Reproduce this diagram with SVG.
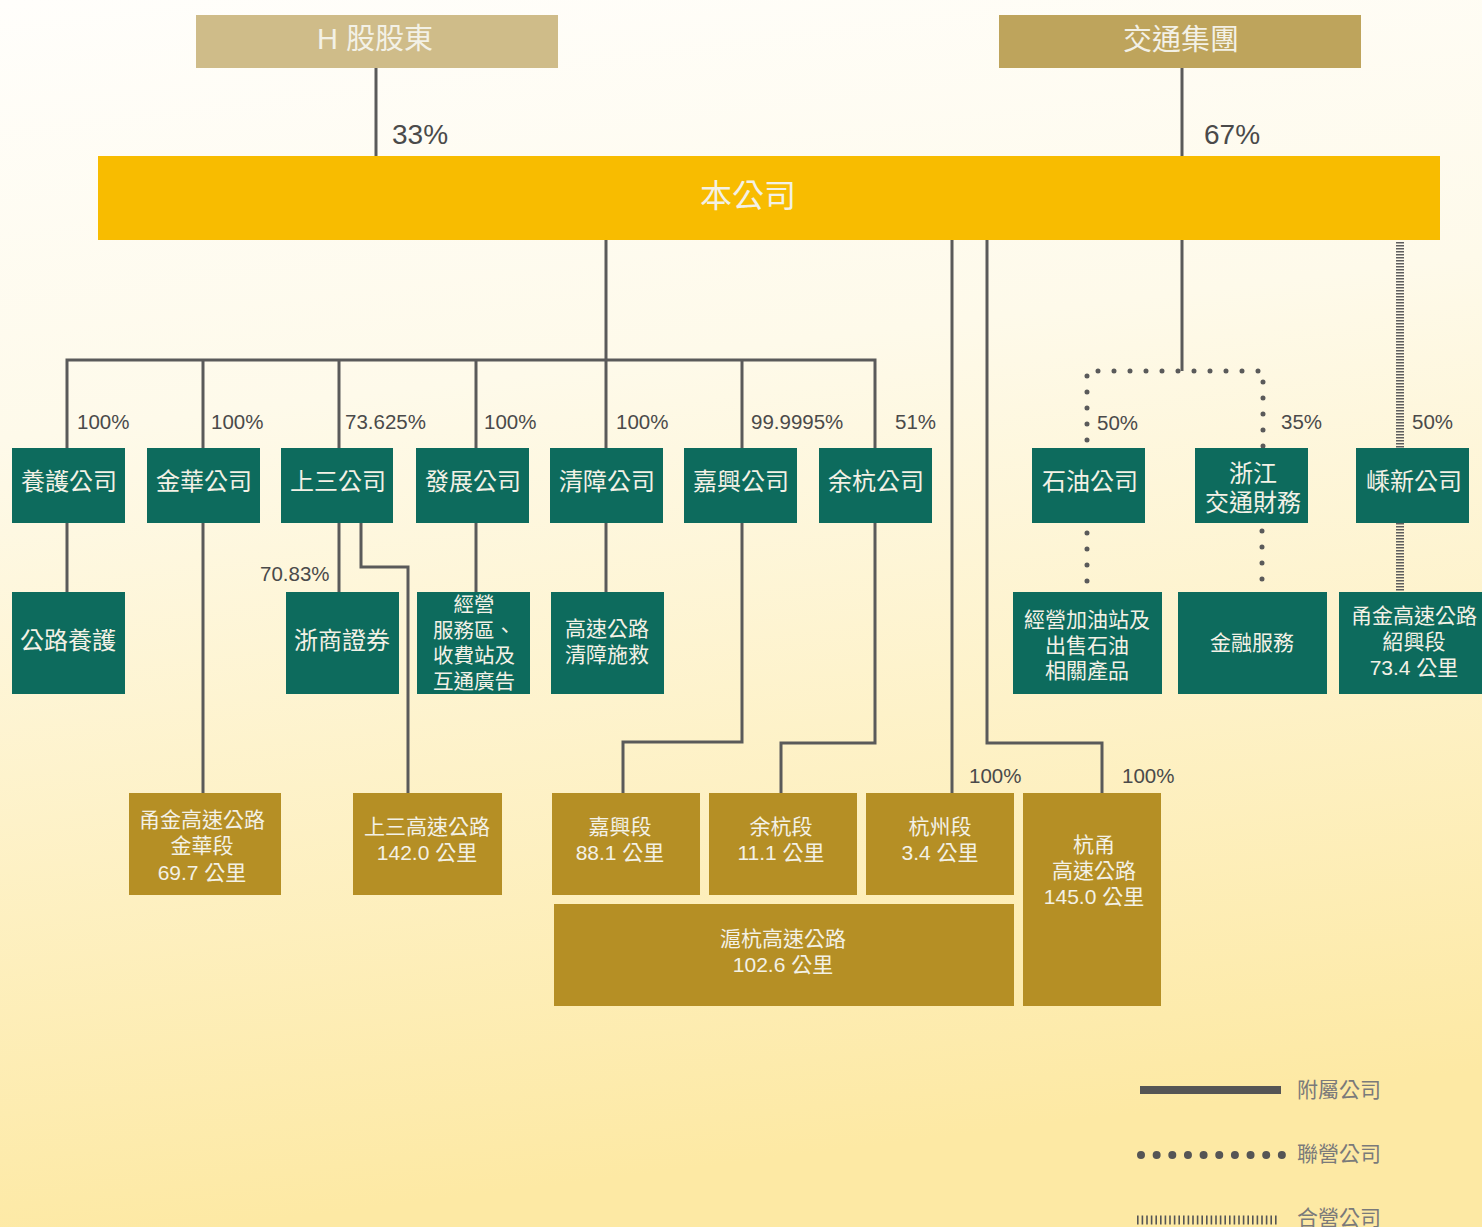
<svg xmlns="http://www.w3.org/2000/svg" width="1482" height="1227" viewBox="0 0 1482 1227">
<defs>
<linearGradient id="bg" x1="0" y1="0" x2="0.15" y2="1">
<stop offset="0" stop-color="#fffefb"/>
<stop offset="0.35" stop-color="#fefaea"/>
<stop offset="1" stop-color="#fde9a4"/>
</linearGradient>
<style>
.t{font-family:"Liberation Sans","Noto Sans CJK TC",sans-serif;text-anchor:middle;}
.w{fill:#f3f1e6;}
.p{font-family:"Liberation Sans","Noto Sans CJK TC",sans-serif;fill:#4a4a4a;font-size:20.5px;}
.g{fill:#0d6b5d;}
.o{fill:#b58f25;}
.s{fill:none;stroke:#5a5a5a;stroke-width:3;}
.d{fill:none;stroke:#5a5a5a;stroke-width:5;stroke-linecap:round;stroke-dasharray:0 16;}
.h{fill:none;stroke:#5e5e5e;stroke-width:8;stroke-dasharray:1.5 1.5;}
.lg{font-family:"Liberation Sans","Noto Sans CJK TC",sans-serif;fill:#7a7a7a;font-size:21px;}
</style>
</defs>
<rect width="1482" height="1227" fill="url(#bg)"/>

<g id="connectors">
<path class="s" d="M376 68V156"/>
<path class="s" d="M1182 68V156"/>
<path class="s" d="M606 240V360M67 448V360H875V448M203 360V448M339 360V448M476 360V448M606 360V448M742 360V448"/>
<path class="s" d="M67 523V592"/>
<path class="s" d="M203 523V793"/>
<path class="s" d="M339 523V592"/>
<path class="s" d="M361 523V567H408V793"/>
<path class="s" d="M476 523V592"/>
<path class="s" d="M606 523V592"/>
<path class="s" d="M742 523V742H623V793"/>
<path class="s" d="M875 523V743H781V793"/>
<path class="s" d="M952 240V793"/>
<path class="s" d="M987 240V743H1102V793"/>
<path class="s" d="M1182 240V371"/>
<path class="d" d="M1087 440V371H1263V448"/>
<path class="d" d="M1087 533V585"/>
<path class="d" d="M1262 531V592"/>
<path class="h" d="M1400 242V448"/>
<path class="h" d="M1400 523V592"/>
</g>

<g id="labels">
<text class="p" x="392" y="144" style="font-size:28px">33%</text>
<text class="p" x="1204" y="144" style="font-size:28px">67%</text>
<text class="p" x="77" y="429">100%</text>
<text class="p" x="211" y="429">100%</text>
<text class="p" x="345" y="429">73.625%</text>
<text class="p" x="484" y="429">100%</text>
<text class="p" x="616" y="429">100%</text>
<text class="p" x="751" y="429">99.9995%</text>
<text class="p" x="895" y="429">51%</text>
<text class="p" x="260" y="581">70.83%</text>
<text class="p" x="1097" y="430">50%</text>
<text class="p" x="1281" y="429">35%</text>
<text class="p" x="1412" y="429">50%</text>
<text class="p" x="969" y="783">100%</text>
<text class="p" x="1122" y="783">100%</text>
</g>

<g id="h-shareholders"><rect x="196" y="15" width="362" height="53" fill="#cfbc89"/><text class="t w" x="375" y="49" font-size="29">H 股股東</text></g>
<g id="jiaotong-group"><rect x="999" y="15" width="362" height="53" fill="#bea45c"/><text class="t w" x="1181" y="50" font-size="29">交通集團</text></g>
<g id="company"><rect x="98" y="156" width="1342" height="84" fill="#f8bc00"/><text class="t w" x="748" y="207" font-size="32">本公司</text></g>

<g id="yanghu"><rect class="g" x="12" y="448" width="113" height="75"/><text class="t w" x="69" y="490" font-size="24">養護公司</text></g>
<g id="jinhua"><rect class="g" x="147" y="448" width="113" height="75"/><text class="t w" x="204" y="490" font-size="24">金華公司</text></g>
<g id="shangsan"><rect class="g" x="281" y="448" width="112" height="75"/><text class="t w" x="338" y="490" font-size="24">上三公司</text></g>
<g id="fazhan"><rect class="g" x="416" y="448" width="113" height="75"/><text class="t w" x="473" y="490" font-size="24">發展公司</text></g>
<g id="qingzhang"><rect class="g" x="550" y="448" width="113" height="75"/><text class="t w" x="607" y="490" font-size="24">清障公司</text></g>
<g id="jiaxing"><rect class="g" x="684" y="448" width="113" height="75"/><text class="t w" x="741" y="490" font-size="24">嘉興公司</text></g>
<g id="yuhang"><rect class="g" x="819" y="448" width="113" height="75"/><text class="t w" x="876" y="490" font-size="24">余杭公司</text></g>
<g id="shiyou"><rect class="g" x="1032" y="448" width="113" height="75"/><text class="t w" x="1090" y="490" font-size="24">石油公司</text></g>
<g id="zj-finance"><rect class="g" x="1195" y="448" width="113" height="75"/><text class="t w" x="1253" y="482" font-size="24">浙江</text><text class="t w" x="1253" y="511" font-size="24">交通財務</text></g>
<g id="shengxin"><rect class="g" x="1356" y="448" width="113" height="75"/><text class="t w" x="1414" y="490" font-size="24">嵊新公司</text></g>

<g id="road-maint"><rect class="g" x="12" y="592" width="113" height="102"/><text class="t w" x="68" y="649" font-size="24">公路養護</text></g>
<g id="zheshang"><rect class="g" x="286" y="592" width="113" height="102"/><text class="t w" x="342" y="649" font-size="24">浙商證券</text></g>
<g id="service"><rect class="g" x="417" y="592" width="113" height="102"/><text class="t w" x="474" y="612" font-size="20.5">經營</text><text class="t w" x="474" y="638" font-size="20.5">服務區、</text><text class="t w" x="474" y="663" font-size="20.5">收費站及</text><text class="t w" x="474" y="689" font-size="20.5">互通廣告</text></g>
<g id="rescue"><rect class="g" x="551" y="592" width="113" height="102"/><text class="t w" x="607" y="636" font-size="21">高速公路</text><text class="t w" x="607" y="662" font-size="21">清障施救</text></g>
<g id="petrol"><rect class="g" x="1013" y="592" width="149" height="102"/><text class="t w" x="1087" y="627" font-size="21">經營加油站及</text><text class="t w" x="1087" y="653" font-size="21">出售石油</text><text class="t w" x="1087" y="678" font-size="21">相關產品</text></g>
<g id="finance"><rect class="g" x="1178" y="592" width="149" height="102"/><text class="t w" x="1252" y="650" font-size="21">金融服務</text></g>
<g id="shaoxing"><rect class="g" x="1339" y="592" width="143" height="102"/><text class="t w" x="1414" y="623" font-size="21">甬金高速公路</text><text class="t w" x="1414" y="649" font-size="21">紹興段</text><text class="t w" x="1414" y="675" font-size="21">73.4 公里</text></g>

<g id="jinhua-sec"><rect class="o" x="129" y="793" width="152" height="102"/><text class="t w" x="202" y="827" font-size="21">甬金高速公路</text><text class="t w" x="202" y="853" font-size="21">金華段</text><text class="t w" x="202" y="880" font-size="21">69.7 公里</text></g>
<g id="shangsan-hw"><rect class="o" x="353" y="793" width="149" height="102"/><text class="t w" x="427" y="834" font-size="21">上三高速公路</text><text class="t w" x="427" y="860" font-size="21">142.0 公里</text></g>
<g id="jiaxing-sec"><rect class="o" x="552" y="793" width="148" height="102"/><text class="t w" x="620" y="834" font-size="21">嘉興段</text><text class="t w" x="620" y="860" font-size="21">88.1 公里</text></g>
<g id="yuhang-sec"><rect class="o" x="709" y="793" width="148" height="102"/><text class="t w" x="781" y="834" font-size="21">余杭段</text><text class="t w" x="781" y="860" font-size="21">11.1 公里</text></g>
<g id="hangzhou-sec"><rect class="o" x="866" y="793" width="148" height="102"/><text class="t w" x="940" y="834" font-size="21">杭州段</text><text class="t w" x="940" y="860" font-size="21">3.4 公里</text></g>
<g id="hangyong"><rect class="o" x="1023" y="793" width="138" height="213"/><text class="t w" x="1094" y="852" font-size="21">杭甬</text><text class="t w" x="1094" y="878" font-size="21">高速公路</text><text class="t w" x="1094" y="904" font-size="21">145.0 公里</text></g>
<g id="huhang"><rect class="o" x="554" y="904" width="460" height="102"/><text class="t w" x="783" y="946" font-size="21">滬杭高速公路</text><text class="t w" x="783" y="972" font-size="21">102.6 公里</text></g>

<g id="legend">
<path d="M1140 1090H1281" stroke="#555" stroke-width="8" fill="none"/>
<text class="lg" x="1297" y="1097">附屬公司</text>
<path d="M1141 1155H1283" stroke="#555" stroke-width="8" stroke-linecap="round" stroke-dasharray="0 15.65" fill="none"/>
<text class="lg" x="1297" y="1161">聯營公司</text>
<path d="M1137 1220H1279" stroke="#555" stroke-width="9" stroke-dasharray="1.6 3" fill="none"/>
<text class="lg" x="1297" y="1225">合營公司</text>
</g>
</svg>
